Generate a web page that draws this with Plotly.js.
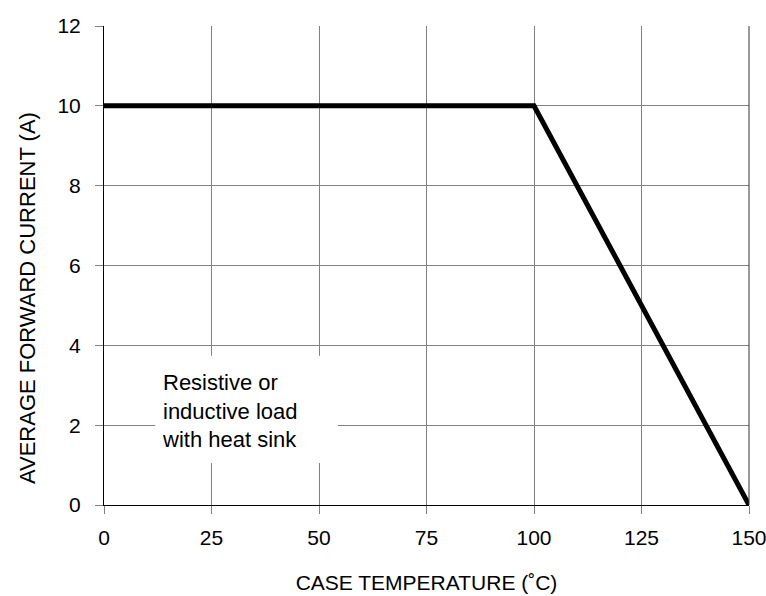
<!DOCTYPE html>
<html><head><meta charset="utf-8">
<script src="https://cdn.plot.ly/plotly-3.0.1.min.js"></script>
<style>body{margin:0;background:#fff}#chart{width:766px;height:596px}</style>
</head><body><div id="chart"></div>
<script>
const caseTemp = [0, 100, 150];
const avgCurrent = [10, 10, 0];
const xTicks = [0, 25, 50, 75, 100, 125, 150];
const yTicks = [0, 2, 4, 6, 8, 10, 12];
const noteText = 'Resistive or<br>inductive load<br>with heat sink';
const xTitle = 'CASE TEMPERATURE (˚C)';
const yTitle = 'AVERAGE FORWARD CURRENT (A)';

const font = {family: 'Liberation Sans, Arial, sans-serif', color: '#000'};
Plotly.newPlot('chart', [{
  x: caseTemp, y: avgCurrent, type: 'scatter', mode: 'lines',
  line: {color: '#000', width: 5}, hoverinfo: 'none'
}], {
  width: 766, height: 596,
  margin: {l: 104, r: 17, t: 26, b: 91},
  paper_bgcolor: '#fff', plot_bgcolor: '#fff',
  showlegend: false,
  font: Object.assign({size: 21}, font),
  xaxis: {
    range: [0, 150], tickvals: xTicks, ticktext: xTicks.map(String),
    showgrid: true, gridcolor: '#808080', gridwidth: 1,
    zeroline: false, showline: true, linecolor: '#000', linewidth: 1,
    ticks: 'outside', ticklen: 8, tickcolor: '#808080', ticklabelstandoff: 6,
    ticklabeloverflow: 'allow',
    tickfont: Object.assign({size: 21}, font),
    title: {text: xTitle, font: Object.assign({size: 21}, font), standoff: 27}
  },
  yaxis: {
    range: [0, 12], tickvals: yTicks, ticktext: yTicks.map(String),
    showgrid: true, gridcolor: '#808080', gridwidth: 1,
    zeroline: false, showline: true, linecolor: '#000', linewidth: 1,
    ticks: 'outside', ticklen: 8, tickcolor: '#808080', ticklabelstandoff: 10,
    ticklabeloverflow: 'allow',
    tickfont: Object.assign({size: 21}, font)
  },
  shapes: [
    {type: 'line', xref: 'paper', yref: 'paper', x0: 1, x1: 1, y0: 0, y1: 1, line: {color: '#333', width: 1}},
    {type: 'rect', xref: 'x', yref: 'y', x0: 11.9, x1: 54.4, y0: 1.05, y1: 3.74,
     fillcolor: '#fff', line: {width: 0}, layer: 'above'}
  ],
  annotations: [{
    x: 13.0, y: 2.35, xref: 'x', yref: 'y', xanchor: 'left', yanchor: 'middle',
    text: noteText, showarrow: false, align: 'left',
    font: Object.assign({size: 22}, font)
  }, {
    x: -0.1194, y: 0.432, xref: 'paper', yref: 'paper', xanchor: 'center', yanchor: 'middle',
    text: yTitle, textangle: -90, showarrow: false,
    font: Object.assign({size: 22}, font)
  }]
}, {displayModeBar: false, staticPlot: true});
</script>
</body></html>
